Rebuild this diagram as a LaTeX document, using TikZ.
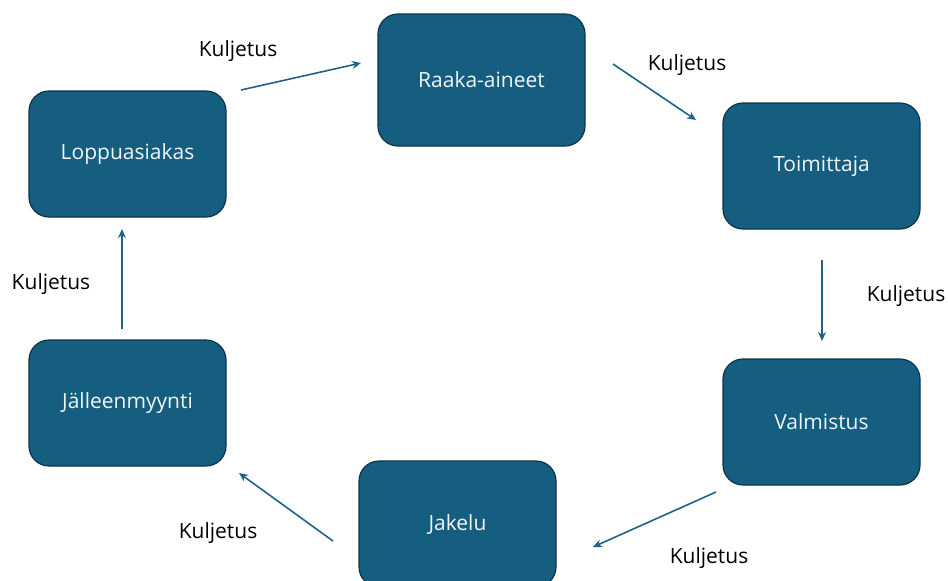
\documentclass[tikz,border=0pt]{standalone}
\usepackage{fontspec}
\setmainfont{Open Sans}
\usetikzlibrary{arrows.meta}
\definecolor{boxfill}{RGB}{22,94,128}
\definecolor{boxline}{RGB}{12,52,72}
\definecolor{arrowc}{RGB}{30,100,135}
\definecolor{boxtext}{RGB}{240,244,246}
\tikzset{
  stagebox/.style={draw=boxline, line width=1.2pt, fill=boxfill, rounded corners=20pt,
    minimum width=197pt, minimum height=126pt, inner sep=0pt, text=boxtext,
    font=\fontsize{21}{24}\selectfont},
  flow/.style={draw=arrowc, line width=1.6pt, -{Stealth[length=9pt,width=8pt]}},
  lbl/.style={font=\fontsize{21}{24}\selectfont, text=black, inner sep=0pt}
}
\begin{document}
\begin{tikzpicture}[x=1pt,y=-1pt]
\useasboundingbox (0,0) rectangle (948,581);
\fill[white] (0,0) rectangle (948,581);
\begin{scope}
\clip (0,0) rectangle (948,581);
\node[stagebox, minimum width=207pt, minimum height=132pt] (raaka) at (481.5,80) {Raaka-aineet};
\node[stagebox] (toim) at (821.5,166) {Toimittaja};
\node[stagebox] (valm) at (821.5,422) {Valmistus};
\node[stagebox] (jak) at (457.5,524) {Jakelu};
\node[stagebox] (jall) at (127.5,403) {Jälleenmyynti};
\node[stagebox] (lopp) at (127.5,154) {Loppuasiakas};
\end{scope}
\coordinate (a1s) at (241,90); \coordinate (a1e) at (361,63);
\coordinate (a2s) at (613,64); \coordinate (a2e) at (696,120);
\coordinate (a3s) at (822,260); \coordinate (a3e) at (822,341);
\coordinate (a4s) at (716,492); \coordinate (a4e) at (593,547);
\coordinate (a5s) at (333,541); \coordinate (a5e) at (239,473);
\coordinate (a6s) at (122,329); \coordinate (a6e) at (122,229);
\draw[flow] (a1s) -- (a1e);
\draw[flow] (a2s) -- (a2e);
\draw[flow] (a3s) -- (a3e);
\draw[flow] (a4s) -- (a4e);
\draw[flow] (a5s) -- (a5e);
\draw[flow] (a6s) -- (a6e);
\node[lbl] (l1) at (238,51) {Kuljetus};
\node[lbl] (l2) at (687,65) {Kuljetus};
\node[lbl] (l3) at (906,296) {Kuljetus};
\node[lbl] (l4) at (709,558) {Kuljetus};
\node[lbl] (l5) at (218,533) {Kuljetus};
\node[lbl] (l6) at (51,284) {Kuljetus};
\end{tikzpicture}
\end{document}
